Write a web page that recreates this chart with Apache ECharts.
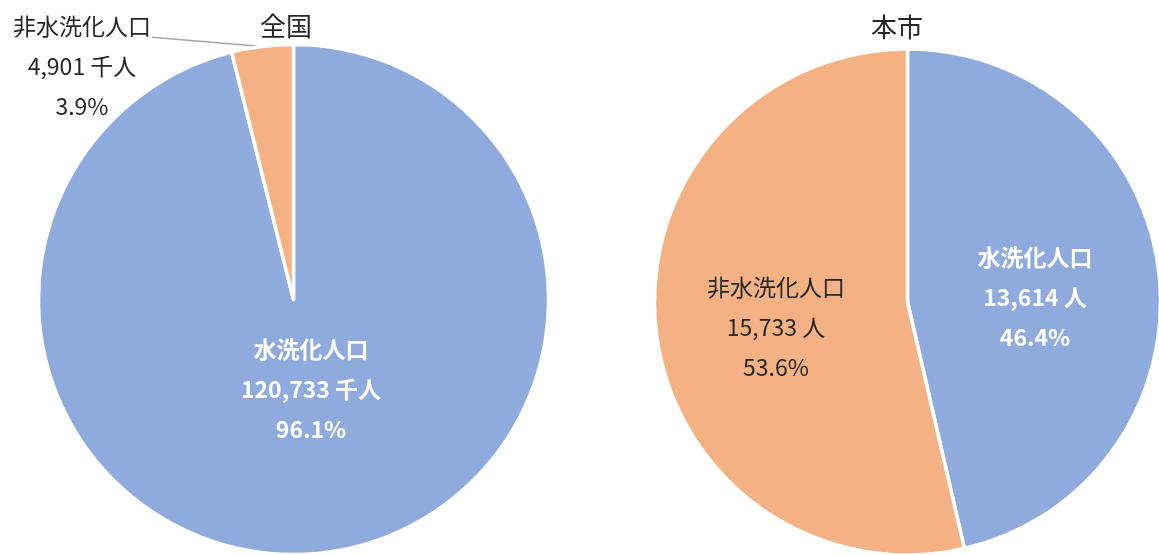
<!DOCTYPE html>
<html>
<head>
<meta charset="utf-8">
<script src="https://cdn.jsdelivr.net/npm/echarts@6/dist/echarts.min.js"></script>
<style>
  html, body { margin: 0; padding: 0; background: #fff; }
  #chart { width: 1159px; height: 555px; }
</style>
</head>
<body>
<div id="chart"></div>
<script>
// Population served by flush toilets vs. not, nationwide and in the city
const categories = ['水洗化人口', '非水洗化人口'];
const nationValues = [120733, 4901];   // 千人
const cityValues = [13614, 15733];     // 人
const panelTitles = ['全国', '本市'];
const units = ['千人', '人'];

const BLUE = '#8FAADC';
const ORANGE = '#F4B183';
const FONT = '"Noto Sans CJK JP", "Noto Sans", sans-serif';
const LINE_H = 40;

function fmt(n) {
  return n.toLocaleString('en-US');
}

function makeData(values) {
  return categories.map((name, i) => ({ name: name, value: values[i] }));
}

// label block centres for each slice, per pie
const labelCentres = [
  [[311, 389], [82, 66]],
  [[1035, 297], [776, 327]]
];

function pieSeries(idx, values, center, radius) {
  const unit = units[idx];
  return {
    type: 'pie',
    center: center,
    radius: radius,
    startAngle: 90,
    clockwise: true,
    percentPrecision: 1,
    animation: false,
    silent: true,
    data: makeData(values).map((d, i) => {
      const inside = !(idx === 0 && i === 1);
      const dark = i === 1;
      return Object.assign(d, {
        itemStyle: { color: i === 0 ? BLUE : ORANGE },
        label: {
          position: inside ? 'inside' : 'outside',
          color: dark ? '#262626' : '#ffffff',
          fontWeight: dark ? 'normal' : 'bold'
        },
        labelLine: { show: !inside, length: 0, length2: 0 }
      });
    }),
    itemStyle: { borderColor: '#ffffff', borderWidth: 3.5 },
    label: {
      show: true,
      fontFamily: FONT,
      fontSize: 23,
      lineHeight: LINE_H,
      align: 'center',
      formatter: p => p.name + '\n' + fmt(p.value) + ' ' + unit + '\n' + p.percent.toFixed(1) + '%'
    },
    labelLine: {
      show: true,
      lineStyle: { color: '#a6a6a6', width: 1.5 }
    },
    labelLayout: function (params) {
      const c = labelCentres[idx][params.dataIndex];
      const out = {
        x: c[0],
        y: c[1],
        align: 'center',
        verticalAlign: 'middle'
      };
      if (params.labelLinePoints) {
        // leader runs from the slice rim to the end of the label's first line
        const rim = params.labelLinePoints[0];
        const r = params.labelRect;
        out.labelLinePoints = [
          rim,
          [c[0] + r.width / 2 + 1, c[1] - r.height / 2 + LINE_H * 0.78]
        ];
      }
      return out;
    }
  };
}

const chart = echarts.init(document.getElementById('chart'), null, { renderer: 'canvas' });

chart.setOption({
  backgroundColor: '#ffffff',
  animation: false,
  title: [
    {
      text: panelTitles[0],
      left: 281,
      top: 8,
      textAlign: 'center',
      textStyle: { fontFamily: FONT, fontSize: 26, fontWeight: 'normal', color: '#262626' }
    },
    {
      text: panelTitles[1],
      left: 892,
      top: 9,
      textAlign: 'center',
      textStyle: { fontFamily: FONT, fontSize: 26, fontWeight: 'normal', color: '#262626' }
    }
  ],
  series: [
    pieSeries(0, nationValues, [293.5, 299.5], 255),
    pieSeries(1, cityValues, [907.5, 302], 253)
  ]
});
</script>
</body>
</html>
